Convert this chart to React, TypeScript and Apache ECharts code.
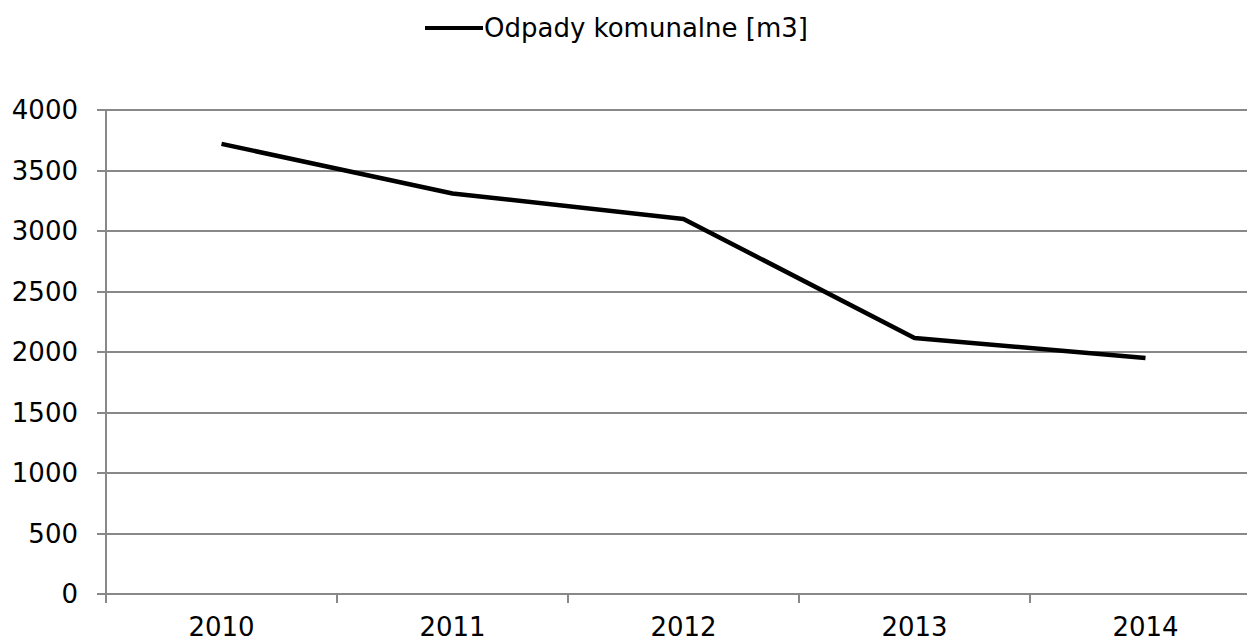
import React, { useEffect, useRef } from "react";
import * as echarts from "echarts";

const categories = ["2010", "2011", "2012", "2013", "2014"];
const seriesName = "Odpady komunalne [m3]";
const values = [3720, 3310, 3100, 2115, 1950];

export default function App() {
  const ref = useRef<HTMLDivElement>(null);
  useEffect(() => {
    if (!ref.current) return;
    const chart = echarts.init(ref.current, undefined, { renderer: "svg" });
    const font = "DejaVu Sans, Verdana, sans-serif";
    chart.setOption({
      animation: false,
      backgroundColor: "#ffffff",
      legend: {
        data: [{ name: seriesName, icon: "rect" }],
        left: 420,
        top: 10,
        itemWidth: 58,
        itemHeight: 4,
        itemGap: 0,
        itemStyle: { color: "#000" },
        textStyle: { fontFamily: font, fontSize: 26, color: "#000", padding: [0, 0, 0, -4] },
      },
      grid: {
        left: 106,
        top: 110,
        width: 1155,
        height: 484,
        outerBoundsMode: "none",
        containLabel: false,
      },
      xAxis: {
        type: "category",
        data: categories,
        boundaryGap: true,
        axisLine: { show: true, lineStyle: { color: "#888", width: 2 } },
        axisTick: { show: true, length: 9, lineStyle: { color: "#888", width: 2 } },
        axisLabel: { fontFamily: font, fontSize: 26, color: "#000", margin: 20 },
      },
      yAxis: {
        type: "value",
        min: 0,
        max: 4000,
        interval: 500,
        axisLine: { show: true, lineStyle: { color: "#888", width: 2 } },
        axisTick: { show: true, length: 9, lineStyle: { color: "#888", width: 2 } },
        splitLine: { show: true, lineStyle: { color: "#888", width: 2 } },
        axisLabel: {
          fontFamily: font,
          fontSize: 26,
          color: "#000",
          margin: 28,
          formatter: (v: number) => String(v),
        },
      },
      series: [
        {
          name: seriesName,
          type: "line",
          data: values,
          symbol: "none",
          lineStyle: { color: "#000", width: 4.5 },
          itemStyle: { color: "#000" },
        },
      ],
    });
    return () => chart.dispose();
  }, []);
  return (
    <div
      ref={ref}
      style={{ position: "fixed", left: 0, top: 0, width: 1247, height: 644 }}
    />
  );
}
